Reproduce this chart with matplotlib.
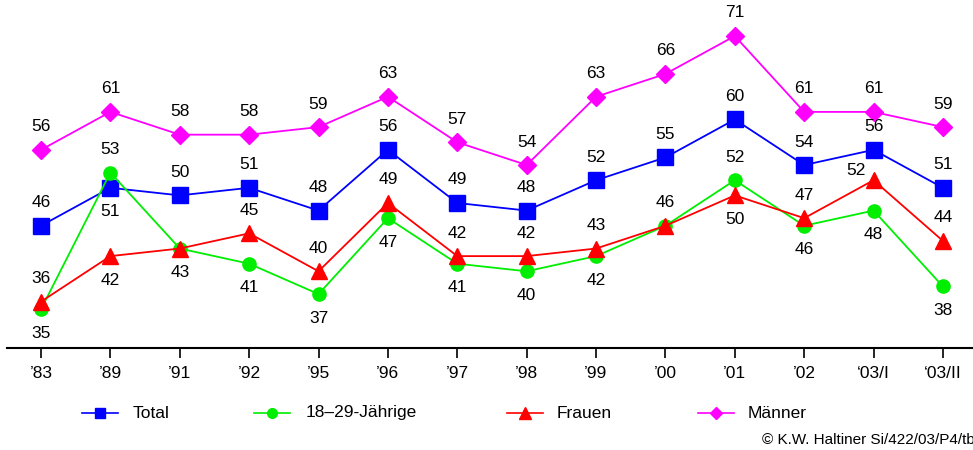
import matplotlib
matplotlib.use("Agg")
import matplotlib.pyplot as plt
from matplotlib.lines import Line2D

plt.rcParams['font.family'] = ['Liberation Sans', 'DejaVu Sans']

categories = ["\u201983", "\u201989", "\u201991", "\u201992", "\u201995", "\u201996", "\u201997",
              "\u201998", "\u201999", "\u201900", "\u201901", "\u201902", "\u201803/I", "\u201803/II"]
total = [46, 51, 50, 51, 48, 56, 49, 48, 52, 55, 60, 54, 56, 51]
jung = [35, 53, 43, 41, 37, 47, 41, 40, 42, 46, 52, 46, 48, 38]
frauen = [36, 42, 43, 45, 40, 49, 42, 42, 43, 46, 50, 47, 52, 44]
maenner = [56, 61, 58, 58, 59, 63, 57, 54, 63, 66, 71, 61, 61, 59]
series_names = ["Total", "18\u201329-J\u00e4hrige", "Frauen", "M\u00e4nner"]

# label placement: 1 above, -1 below, 0 none
pos_total = [1, -1, 1, 1, 1, 1, 1, 1, 1, 1, 1, 1, 1, 1]
pos_jung = [-1, 1, -1, -1, -1, -1, -1, -1, -1, 1, 1, -1, -1, -1]
pos_frauen = [1, -1, 0, 1, 1, 1, 1, 1, 1, 0, -1, 1, 1, 1]
pos_maenner = [1] * 14

W, H = 973, 450
fig = plt.figure(figsize=(W / 100, H / 100), dpi=100)
ax = fig.add_axes([7 / W, 1 - 348 / H, 1 - 7 / W, 348 / H])

x = list(range(len(categories)))
styles = [
    (total, "#0000ff", "s", 11, pos_total),
    (jung, "#00ee00", "o", 9.5, pos_jung),
    (frauen, "#ff0000", "^", 11.5, pos_frauen),
    (maenner, "#ff00ff", "D", 9, pos_maenner),
]
for vals, col, mk, ms, pos in styles:
    ax.plot(x, vals, color=col, marker=mk, markersize=ms, linewidth=1.3,
            markeredgecolor=col, markerfacecolor=col)

fs = 12.5
for vals, col, mk, ms, pos in styles:
    for i, (v, p) in enumerate(zip(vals, pos)):
        if p == 0:
            continue
        dx = 0
        dy = 23 if p > 0 else -24
        if vals is frauen and i == 12:
            dx, dy = -18, 10
        ax.annotate(str(v), (i, v), xytext=(dx * 0.72, dy * 0.72), textcoords="offset points",
                    ha="center", va="center", fontsize=fs, color="black")

ax.set_xlim((7 - 41) / 69.38, (973 - 41) / 69.38)
ax.set_ylim(71 - (348 - 36) / 7.59, 71 + 36 / 7.59)
ax.set_xticks(x)
ax.set_xticklabels(categories, fontsize=fs)
ax.tick_params(axis="x", direction="out", length=7, width=1.2, pad=6)
ax.set_yticks([])
for s in ["top", "right", "left"]:
    ax.spines[s].set_visible(False)
ax.spines["bottom"].set_linewidth(1.5)

# legend
ly = 1 - 413 / H
leg = [(100, 133, "#0000ff", "s", 7), (272, 306, "#00ee00", "o", 7),
       (525, 557, "#ff0000", "^", 8), (716, 748, "#ff00ff", "D", 6)]
for (mx, tx, col, mk, ms), name in zip(leg, series_names):
    fig.add_artist(Line2D([(mx - 18) / W, (mx + 18) / W], [ly, ly], color=col, linewidth=1.2))
    fig.add_artist(Line2D([mx / W], [ly], color=col, marker=mk, markersize=ms,
                          markerfacecolor=col, markeredgecolor=col))
    fig.text(tx / W, ly, name, fontsize=fs, va="center", ha="left")

fig.text(762 / W, 1 - 440 / H, "\u00a9 K.W. Haltiner Si/422/03/P4/tb", fontsize=11, va="center", ha="left")

fig.savefig("out.png", dpi=100)
